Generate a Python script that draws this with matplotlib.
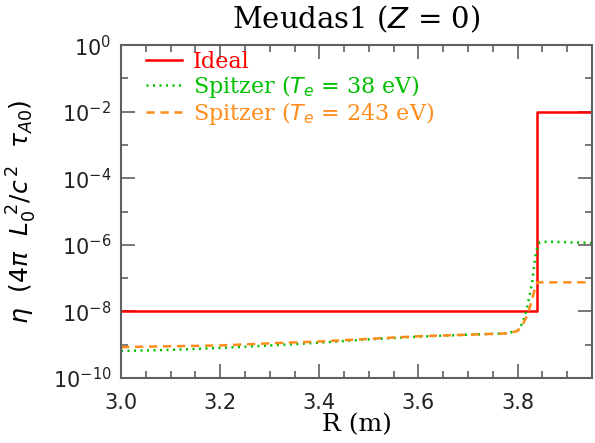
import matplotlib
matplotlib.use("Agg")
import matplotlib.pyplot as plt
from matplotlib.ticker import LogLocator, NullFormatter, MultipleLocator, FormatStrFormatter

# ideal wall profile
r_ideal = [3.0, 3.839, 3.839, 3.95]
eta_ideal = [1e-8, 1e-8, 1e-2, 1e-2]

# Spitzer resistivity, Te = 38 eV
r_38 = [3.0, 3.1, 3.2, 3.3, 3.4, 3.5, 3.6, 3.7, 3.78, 3.80, 3.81, 3.818, 3.825,
        3.83, 3.835, 3.84, 3.845, 3.86, 3.9, 3.95]
eta_38 = [6.5e-10, 7.0e-10, 8.0e-10, 9.5e-10, 1.15e-9, 1.45e-9, 1.75e-9, 2.0e-9,
          2.2e-9, 2.7e-9, 4.5e-9, 1.1e-8, 3.5e-8, 9e-8, 4e-7, 9e-7, 1.2e-6,
          1.25e-6, 1.2e-6, 1.15e-6]

# Spitzer resistivity, Te = 243 eV
r_243 = [3.0, 3.1, 3.2, 3.3, 3.4, 3.5, 3.6, 3.7, 3.78, 3.80, 3.81, 3.82, 3.828,
         3.835, 3.84, 3.95]
eta_243 = [8.5e-10, 9.0e-10, 9.5e-10, 1.1e-9, 1.25e-9, 1.5e-9, 1.8e-9, 2.0e-9,
           2.2e-9, 2.6e-9, 4e-9, 8e-9, 2e-8, 5e-8, 7.5e-8, 7.5e-8]

red = "#ff0000"
green = "#00c000"
orange = "#ff8c1a"
axcol = "#606060"

fig = plt.figure(figsize=(5.95, 4.43), dpi=100)
ax = fig.add_axes([0.2034, 0.1467, 0.7916, 0.7513])

ax.plot(r_ideal, eta_ideal, color=red, lw=1.8, label="Ideal")
ax.plot(r_38, eta_38, color=green, lw=1.8, linestyle=(0, (0.8, 1.8)),
        label=r"Spitzer ($T_e$ = 38 eV)")
ax.plot(r_243, eta_243, color=orange, lw=1.8, linestyle=(0, (3.3, 2.3)),
        label=r"Spitzer ($T_e$ = 243 eV)")

ax.set_yscale("log")
ax.set_xlim(3.0, 3.95)
ax.set_ylim(1e-10, 1)
ax.yaxis.set_major_locator(LogLocator(base=100, numticks=10))
ax.yaxis.set_minor_locator(LogLocator(base=10, numticks=20))
ax.yaxis.set_minor_formatter(NullFormatter())
ax.xaxis.set_major_locator(MultipleLocator(0.2))
ax.xaxis.set_minor_locator(MultipleLocator(0.05))
ax.xaxis.set_major_formatter(FormatStrFormatter("%.1f"))

ax.tick_params(which="both", direction="in", top=True, right=True,
               colors=axcol, labelcolor="#222222", labelsize=15)
ax.tick_params(axis="x", pad=11)
ax.tick_params(axis="y", pad=7)
ax.tick_params(which="major", length=10, width=1.2)
ax.tick_params(which="minor", length=5, width=1.2)
for s in ax.spines.values():
    s.set_color(axcol)
    s.set_linewidth(1.5)

ax.set_title(r"Meudas1 ($Z$ = 0)", fontsize=21, family="DejaVu Serif", pad=12)
ax.set_xlabel("R (m)", fontsize=18, family="DejaVu Serif", labelpad=0)
ax.set_ylabel(r"$\eta$  $(4\pi\ \ L_0^{\ 2}/c^{\,2}\ \ \tau_{A0})$", fontsize=18, labelpad=0)
ax.yaxis.set_label_coords(-0.175, 0.5)

leg = ax.legend(loc="upper left", frameon=False, handlelength=1.6,
                borderaxespad=0.0, labelspacing=0.0, handletextpad=0.5,
                prop={"family": "DejaVu Serif", "size": 16},
                bbox_to_anchor=(0.035, 1.01))
for txt, c in zip(leg.get_texts(), [red, green, orange]):
    txt.set_color(c)

fig.savefig("out.png", dpi=100)
